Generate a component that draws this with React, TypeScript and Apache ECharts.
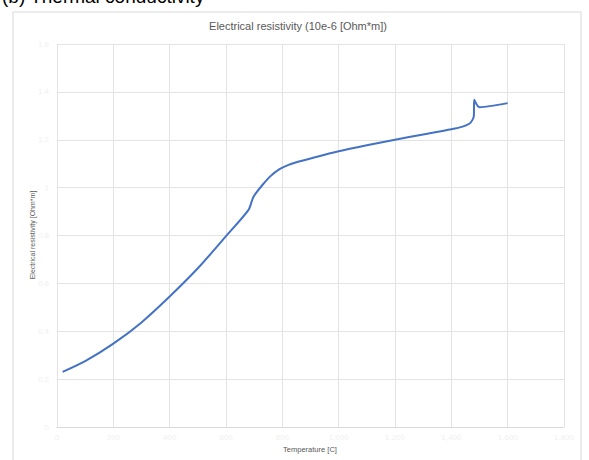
import React, { useEffect, useRef } from "react";
import * as echarts from "echarts";

// Temperature in °C and matching electrical resistivity (10e-6 Ohm*m)
const temperature = [
  20, 100, 200, 300, 400, 500, 600, 680, 695, 705, 730, 756, 790, 820, 850, 900,
  1000, 1100, 1200, 1300, 1400, 1440, 1465, 1475, 1480, 1481, 1500, 1600,
];
const resistivity = [
  0.23, 0.275, 0.348, 0.437, 0.545, 0.663, 0.797, 0.907, 0.955, 0.975, 1.012, 1.046,
  1.077, 1.094, 1.106, 1.122, 1.152, 1.177, 1.2, 1.222, 1.244, 1.255, 1.268, 1.283,
  1.3, 1.367, 1.336, 1.353,
];

const xTicks = { min: 0, max: 1800, interval: 200 };
const yTicks = { min: 0, max: 1.6, interval: 0.2 };

const chartTitle = "Electrical resistivity (10e-6 [Ohm*m])";
const pageHeading = "(b) Thermal conductivity";
const xName = "Temperature [C]";
const yName = "Electrical resistivity [Ohm*m]";

const FONT = "'Liberation Sans', Arial, sans-serif";

export default function App() {
  const ref = useRef<HTMLDivElement>(null);

  useEffect(() => {
    if (!ref.current) return;
    const chart = echarts.init(ref.current, undefined, { renderer: "svg" });
    const data = temperature.map((t, i) => [t, resistivity[i]]);

    chart.setOption({
      animation: false,
      backgroundColor: "#ffffff",
      textStyle: { fontFamily: FONT },
      grid: { left: 57, right: 25, top: 44, bottom: 33, containLabel: false },
      graphic: [
        {
          type: "rect",
          shape: { x: 13, y: 12, width: 568, height: 460 },
          style: { fill: "none", stroke: "#d9d9d9", lineWidth: 1 },
          silent: true,
        },
        {
          type: "text",
          x: 2,
          y: 6,
          style: {
            text: pageHeading,
            fontSize: 19,
            fontFamily: FONT,
            fill: "#000000",
            textVerticalAlign: "bottom",
          },
        },
        {
          type: "text",
          x: 298,
          y: 26,
          style: {
            text: chartTitle,
            fontSize: 11,
            fontFamily: FONT,
            fill: "#595959",
            textAlign: "center",
            textVerticalAlign: "middle",
          },
        },
        {
          type: "text",
          x: 310,
          y: 449,
          style: {
            text: xName,
            fontSize: 7.5,
            fontFamily: FONT,
            fill: "#595959",
            textAlign: "center",
            textVerticalAlign: "middle",
          },
        },
        {
          type: "text",
          x: 32,
          y: 235,
          rotation: Math.PI / 2,
          style: {
            text: yName,
            fontSize: 7,
            fontFamily: FONT,
            fill: "#595959",
            textAlign: "center",
            textVerticalAlign: "middle",
          },
        },
      ],
      xAxis: {
        type: "value",
        ...xTicks,
        axisLine: { show: true, lineStyle: { color: "#d9d9d9" } },
        axisTick: { show: false },
        axisLabel: { color: "#f0f0f0", fontSize: 8, margin: 6 },
        splitLine: { show: true, lineStyle: { color: "#e3e3e3", width: 1 } },
      },
      yAxis: {
        type: "value",
        ...yTicks,
        axisLine: { show: false },
        axisTick: { show: false },
        axisLabel: {
          color: "#f0f0f0",
          fontSize: 8,
          margin: 8,
          formatter: (v: number) => String(Math.round(v * 10) / 10),
        },
        splitLine: { show: true, lineStyle: { color: "#e3e3e3", width: 1 } },
      },
      series: [
        {
          type: "line",
          data,
          showSymbol: false,
          smooth: 0.25,
          lineStyle: { color: "#4472c4", width: 2 },
        },
      ],
    });

    return () => chart.dispose();
  }, []);

  return (
    <div
      ref={ref}
      style={{ position: "absolute", left: 0, top: 0, width: 589, height: 460 }}
    />
  );
}
